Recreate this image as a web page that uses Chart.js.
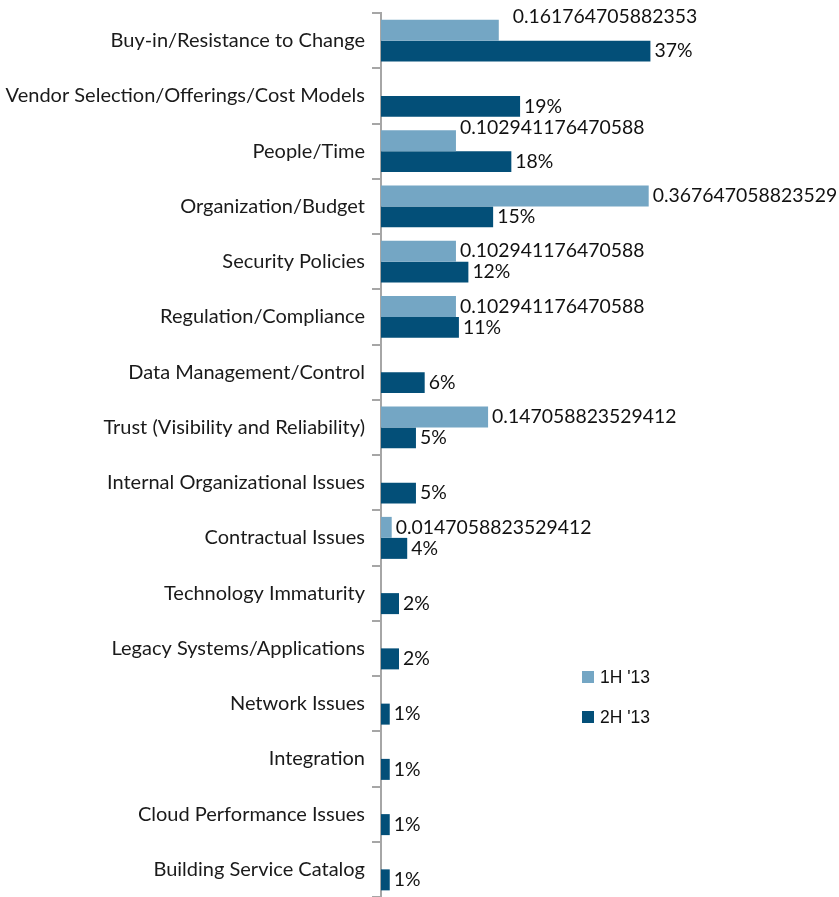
<!DOCTYPE html>
<html lang="en">
  <head>
    <meta charset="UTF-8" />
    <title>Cloud Adoption Barriers</title>
    <script src="https://cdn.jsdelivr.net/npm/chart.js"></script>
    <style>
      html, body { margin: 0; padding: 0; background: #fff; }
      #wrap { width: 839px; height: 897px; }
    </style>
  </head>
  <body>
    <div id="wrap"><canvas id="barChart"></canvas></div>

    <script>
      // categories, top to bottom
      const categories = [
        "Buy-in/Resistance to Change",
        "Vendor Selection/Offerings/Cost Models",
        "People/Time",
        "Organization/Budget",
        "Security Policies",
        "Regulation/Compliance",
        "Data Management/Control",
        "Trust (Visibility and Reliability)",
        "Internal Organizational Issues",
        "Contractual Issues",
        "Technology Immaturity",
        "Legacy Systems/Applications",
        "Network Issues",
        "Integration",
        "Cloud Performance Issues",
        "Building Service Catalog",
      ];

      const seriesNames = ["1H '13", "2H '13"];

      // 1H '13 (raw fractions, shown unformatted)
      const firstHalf = [
        0.161764705882353, null, 0.102941176470588, 0.367647058823529,
        0.102941176470588, 0.102941176470588, null, 0.147058823529412,
        null, 0.0147058823529412, null, null, null, null, null, null,
      ];

      // 2H '13 (labelled as rounded %)
      const secondHalf = [
        0.37, 0.191, 0.179, 0.154, 0.12, 0.107, 0.06, 0.048,
        0.048, 0.036, 0.0247, 0.0247, 0.012, 0.012, 0.012, 0.012,
      ];

      const LIGHT = "#74a6c4";
      const DARK = "#034f78";

      // a couple of Excel labels sit higher / further out than the bar centre
      const labelNudge = { "0-0": { dx: 10, dy: -13 }, "0-2": { dx: 0, dy: -13 } };

      const barLabels = {
        id: "barLabels",
        afterDatasetsDraw(chart) {
          const ctx = chart.ctx;
          ctx.save();
          ctx.font = "19.4px Lato";
          ctx.fillStyle = "#111";
          ctx.textBaseline = "middle";
          ctx.textAlign = "left";
          chart.data.datasets.forEach((ds, di) => {
            const meta = chart.getDatasetMeta(di);
            meta.data.forEach((bar, i) => {
              const v = ds.data[i];
              if (v == null) return;
              const txt = di === 0 ? String(v) : Math.round(v * 100) + "%";
              const n = labelNudge[di + "-" + i] || { dx: 0, dy: 0 };
              ctx.fillText(txt, bar.x + 4 + n.dx, bar.y + n.dy);
            });
          });

          // legend inside the plot, lower right
          ctx.font = "17.5px 'Liberation Sans'";
          chart.data.datasets.forEach((ds, di) => {
            const y = 677 + di * 40;
            ctx.fillStyle = ds.backgroundColor;
            ctx.fillRect(582, y - 6, 12, 12);
            ctx.fillStyle = "#111";
            ctx.fillText(ds.label, 600, y + 1);
          });
          ctx.restore();
        },
      };

      const ctx = document.getElementById("barChart").getContext("2d");
      new Chart(ctx, {
        type: "bar",
        data: {
          labels: categories,
          datasets: [
            { label: seriesNames[0], data: firstHalf, backgroundColor: LIGHT },
            { label: seriesNames[1], data: secondHalf, backgroundColor: DARK },
          ],
        },
        options: {
          indexAxis: "y",
          responsive: true,
          maintainAspectRatio: false,
          animation: false,
          layout: { padding: { top: 13, right: 0, bottom: 0, left: 0 } },
          datasets: {
            bar: { categoryPercentage: 0.76, barPercentage: 1, skipNull: false },
          },
          plugins: {
            legend: { display: false },
            tooltip: { enabled: false },
          },
          scales: {
            x: { display: false, min: 0, max: 0.629 },
            y: {
              offset: true,
              afterFit(scale) {
                scale.width = 381;
                scale.paddingTop = 0;
                scale.paddingBottom = 0;
              },
              border: { display: true, color: "#a6a6a6", width: 2 },
              grid: {
                offset: true,
                drawOnChartArea: false,
                drawTicks: true,
                tickLength: 9,
                color: "#a6a6a6",
                lineWidth: 2,
              },
              ticks: {
                padding: 7,
                autoSkip: false,
                color: "#1a1a1a",
                font: { family: "Lato", size: 20 },
              },
            },
          },
        },
        plugins: [barLabels],
      });
    </script>
  </body>
</html>
